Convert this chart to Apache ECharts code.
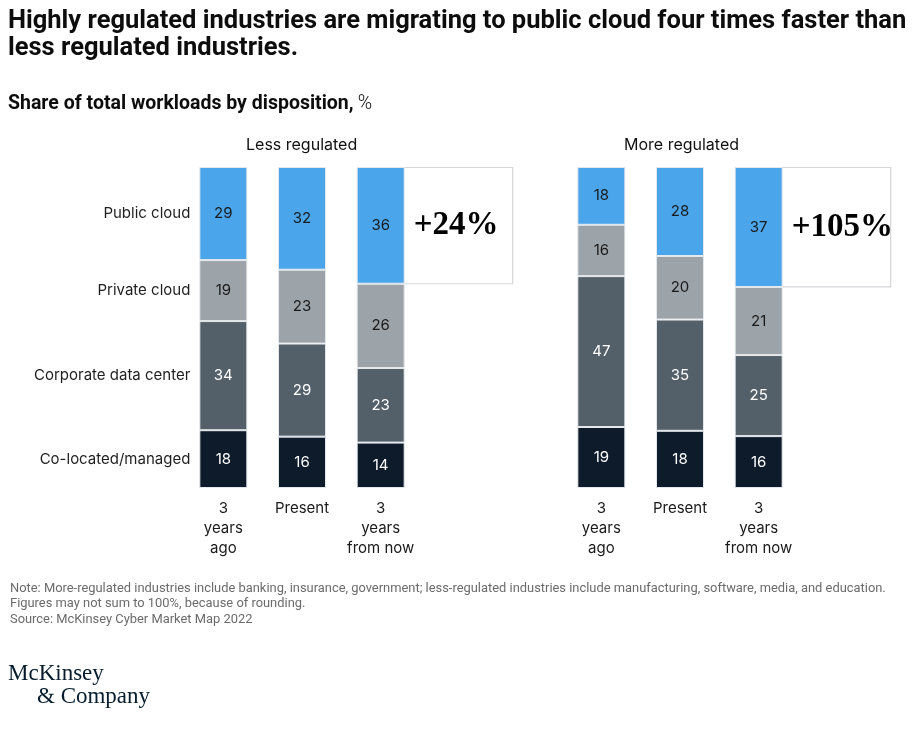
<!DOCTYPE html>
<html>
<head>
<meta charset="utf-8">
<script src="https://cdn.jsdelivr.net/npm/echarts@6/dist/echarts.min.js"></script>
<style>
html,body{margin:0;padding:0;background:#fff;}
#chart{width:921px;height:729px;}
</style>
</head>
<body>
<div id="chart"></div>
<script>
// ---- data ----
var periods = ['3\nyears\nago', 'Present', '3\nyears\nfrom now'];
var dispositions = ['Public cloud', 'Private cloud', 'Corporate data center', 'Co-located/managed'];
var groups = ['Less regulated', 'More regulated'];
var lessPublic = [29, 32, 36];
var lessPrivate = [19, 23, 26];
var lessCorporate = [34, 29, 23];
var lessColocated = [18, 16, 14];
var morePublic = [18, 28, 37];
var morePrivate = [16, 20, 21];
var moreCorporate = [47, 35, 25];
var moreColocated = [19, 18, 16];
var growth = ['+24%', '+105%'];

// ---- styling ----
var colors = ['#4aa5eb', '#9ca3a9', '#535f69', '#0e1b2b'];
var labelColors = ['#1a1a1a', '#1a1a1a', '#ffffff', '#ffffff'];
var BAR_W = 48;

var groupData = [
  [lessPublic, lessPrivate, lessCorporate, lessColocated],
  [morePublic, morePrivate, moreCorporate, moreColocated]
];

function totals(g) {
  return periods.map(function (_, i) {
    return g.reduce(function (s, arr) { return s + arr[i]; }, 0);
  });
}

var series = [];
groupData.forEach(function (g, gi) {
  var tot = totals(g);
  // stack from bottom: co-located, corporate, private, public
  for (var k = 3; k >= 0; k--) {
    (function (k) {
      series.push({
        name: dispositions[k],
        type: 'bar',
        stack: 'g' + gi,
        xAxisIndex: gi,
        yAxisIndex: gi,
        barWidth: BAR_W,
        itemStyle: { color: colors[k], borderColor: '#e4e8eb', borderWidth: 1 },
        label: {
          show: true,
          position: 'inside',
          color: labelColors[k],
          fontFamily: 'Inter, Roboto, sans-serif',
          fontSize: 15,
          formatter: function (p) { return g[k][p.dataIndex]; }
        },
        data: g[k].map(function (v, i) { return v / tot[i] * 100; })
      });
    })(k);
  }
});

var grids = [
  { left: 184, top: 167, width: 236, height: 321 },
  { left: 562, top: 167, width: 236, height: 321 }
];

var option = {
  animation: false,
  backgroundColor: '#ffffff',
  textStyle: { fontFamily: 'Inter, Roboto, sans-serif' },
  title: [
    {
      text: 'Highly regulated industries are migrating to public cloud four times faster than\nless regulated industries.',
      left: 3, top: 3,
      textStyle: { fontFamily: 'Roboto, sans-serif', fontWeight: 'bold', fontSize: 25.5, lineHeight: 27, color: '#0d0d0d' }
    },
    {
      text: '{b|Share of total workloads by disposition,} {r|%}',
      left: 3, top: 89,
      textStyle: {
        rich: {
          b: { fontFamily: 'Roboto, sans-serif', fontWeight: 'bold', fontSize: 19.5, color: '#0d0d0d' },
          r: { fontFamily: 'Roboto, sans-serif', fontWeight: 300, fontSize: 19.5, color: '#0d0d0d' }
        }
      }
    },
    {
      text: groups[0], left: 241, top: 132,
      textStyle: { fontFamily: 'Inter, Roboto, sans-serif', fontWeight: 'normal', fontSize: 16, color: '#111' }
    },
    {
      text: groups[1], left: 619, top: 132,
      textStyle: { fontFamily: 'Inter, Roboto, sans-serif', fontWeight: 'normal', fontSize: 16, color: '#111' }
    },
    {
      text: 'Note: More-regulated industries include banking, insurance, government; less-regulated industries include manufacturing, software, media, and education.\nFigures may not sum to 100%, because of rounding.\nSource: McKinsey Cyber Market Map 2022',
      left: 5, top: 576,
      textStyle: { fontFamily: 'Roboto, sans-serif', fontWeight: 'normal', fontSize: 12.9, lineHeight: 15.5, color: '#6b6b6b' }
    },
    {
      text: 'McKinsey',
      left: 3, top: 657,
      textStyle: { fontFamily: 'Liberation Serif, serif', fontWeight: 'normal', fontSize: 23, color: '#051c2c' }
    },
    {
      text: '& Company',
      left: 32, top: 680,
      textStyle: { fontFamily: 'Liberation Serif, serif', fontWeight: 'normal', fontSize: 23, color: '#051c2c' }
    }
  ],
  grid: grids,
  xAxis: grids.map(function (_, gi) {
    return {
      type: 'category', gridIndex: gi, data: periods,
      axisLine: { show: false }, axisTick: { show: false },
      axisLabel: { color: '#1a1a1a', fontSize: 15, lineHeight: 20, margin: 10, interval: 0 }
    };
  }),
  yAxis: grids.map(function (_, gi) {
    return { type: 'value', gridIndex: gi, min: 0, max: 100, show: false, splitLine: { show: false } };
  }),
  series: series
};

var chart = echarts.init(document.getElementById('chart'), null, { renderer: 'canvas' });
chart.setOption(option);

// ---- annotations positioned from the axes ----
var graphics = [];
groupData.forEach(function (g, gi) {
  var tot = totals(g);
  var last = periods.length - 1;
  var cx = chart.convertToPixel({ xAxisIndex: gi }, last);
  var xLeft = cx + BAR_W / 2;
  var yTop = chart.convertToPixel({ yAxisIndex: gi }, 100);
  var yBot = chart.convertToPixel({ yAxisIndex: gi }, 100 - g[0][last] / tot[last] * 100);
  var w = 108;
  graphics.push({
    type: 'polyline',
    shape: { points: [[xLeft, yTop + 0.5], [xLeft + w, yTop + 0.5], [xLeft + w, yBot], [xLeft, yBot]] },
    style: { stroke: '#d4d6d8', lineWidth: 1.2, fill: null },
    z: 10
  });
  graphics.push({
    type: 'text',
    x: xLeft + 9, y: (yTop + yBot) / 2,
    style: {
      text: growth[gi], align: 'left', verticalAlign: 'middle',
      font: 'bold 33px "Liberation Serif", serif', fill: '#000'
    },
    z: 10
  });
});

// category labels beside the first bar of the first group
(function () {
  var g = groupData[0];
  var tot = totals(g);
  var cx = chart.convertToPixel({ xAxisIndex: 0 }, 0);
  var x = cx - BAR_W / 2 - 9;
  var cum = 100;
  for (var k = 0; k < 4; k++) {
    var h = g[k][0] / tot[0] * 100;
    var y = chart.convertToPixel({ yAxisIndex: 0 }, cum - h / 2);
    cum -= h;
    graphics.push({
      type: 'text', x: x, y: y,
      style: {
        text: dispositions[k], align: 'right', verticalAlign: 'middle',
        font: '15px Inter, Roboto, sans-serif', fill: '#1f1f1f'
      }
    });
  }
})();

chart.setOption({ graphic: graphics });
</script>
</body>
</html>
